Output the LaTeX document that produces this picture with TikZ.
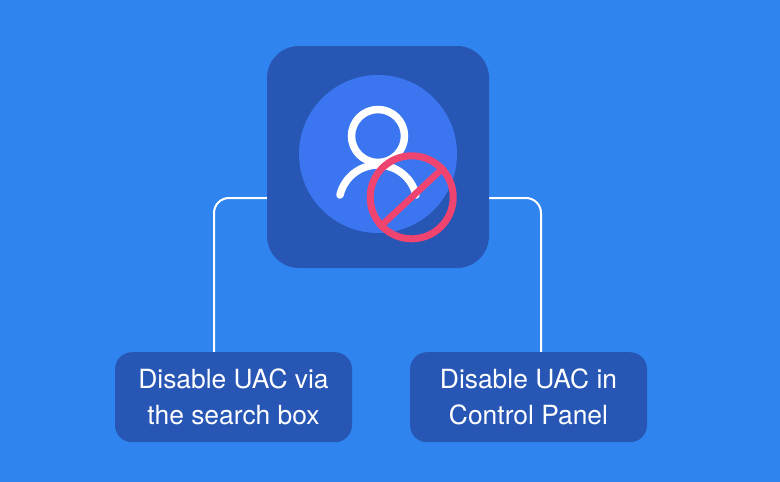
\documentclass[tikz,border=0pt]{standalone}
\usepackage{fontspec}
\setmainfont{TeX Gyre Heros}
\definecolor{skyback}{HTML}{2F84F0}
\definecolor{darkbox}{HTML}{2756B5}
\definecolor{midblue}{HTML}{3B76F0}
\definecolor{banred}{HTML}{EF4470}
\tikzset{
    link/.style={draw=white, line width=2, rounded corners=15},
    choice/.style={fill=darkbox, rounded corners=17, minimum width=237, minimum height=90,
        inner sep=0, align=center, text=white, font=\fontsize{26.4}{36}\selectfont}
}
\begin{document}
\begin{tikzpicture}[x=1pt, y=-1pt]
        \tikzstyle{usr}=[draw=white, line width=7.5, line cap=round]
        \tikzstyle{ban}=[draw=banred, line width=7]
        \fill[skyback] (0,0) rectangle (780,482);
        \useasboundingbox (0,0) rectangle (780,482);
        \coordinate (leftstart) at (267,198);
        \coordinate (rightstart) at (489,198);
        \coordinate (leftend) at (214,352);
        \coordinate (rightend) at (541,352);
        \draw[link] (leftstart) -| (leftend);
        \draw[link] (rightstart) -| (rightend);
        \node[fill=darkbox, rounded corners=32, minimum size=222, inner sep=0] (mainbox) at (378,157) {};
        \node[fill=midblue, circle, minimum size=158, inner sep=0] (disc) at (378,154) {};
        \node[circle, usr, minimum size=53, inner sep=0] (head) at (378,136) {};
        \draw[usr] (340,195) .. controls (344.2,177.4) and (359.9,165) .. (378,165) .. controls (396.1,165) and (411.8,177.4) .. (416,195);
        \node[circle, ban, minimum size=83, inner sep=0] (sign) at (411.7,197.3) {};
        \draw[ban, line width=6.5] (sign.223) -- (sign.43);
        \node[choice] (searchbox) at (233.5,397.2) {Disable UAC via\\the search box};
        \node[choice] (panelbox) at (528.5,397.2) {Disable UAC in\\Control Panel};
    \end{tikzpicture}
\end{document}
